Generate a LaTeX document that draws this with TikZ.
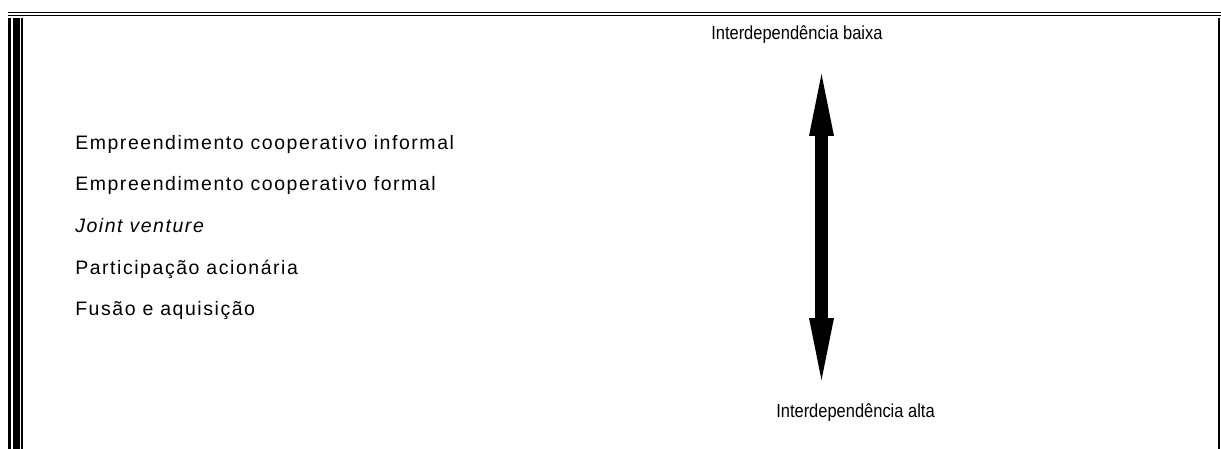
\documentclass[tikz,border=0pt]{standalone}
\usepackage{fontspec}
\setmainfont{Liberation Sans}
\newfontfamily\itemfont{Liberation Sans}[LetterSpace=8]
\newfontfamily\polefont{Liberation Sans}[FakeStretch=0.87]
\usetikzlibrary{arrows.meta}
\tikzset{
  item/.style={anchor=base west, inner sep=0pt, font=\itemfont\fontsize{14.6pt}{16pt}\selectfont},
  pole/.style={anchor=base west, inner sep=0pt, font=\polefont\fontsize{14.2pt}{16pt}\selectfont},
  frame/.style={line width=1pt, black},
  bigarrow/.style={line width=9.75pt,
    {Triangle[length=46.5pt,width=18.75pt,line width=0pt]}-{Triangle[length=46.5pt,width=18.75pt,line width=0pt]}}
}
\begin{document}
\begin{tikzpicture}[x=0.75pt,y=-0.75pt]
\useasboundingbox (0,0) rectangle (1221,449);
% table frame: double rule on top, triple rule on the left, single on the right
\draw[frame] (8,12.7) -- (1221,12.7);
\draw[frame] (8,15.7) -- (1221,15.7);
\fill (8,18) rectangle (10.5,449);
\fill (12.5,18) rectangle (19.5,449);
\fill (21,18) rectangle (23,449);
\fill (1217.7,18) rectangle (1220.3,449);
% forms of cooperation
\node[item] (t1) at (75,150) {Empreendimento cooperativo informal};
\node[item] (t2) at (75,191) {Empreendimento cooperativo formal};
\node[item] (t3) at (75,233) {\itshape Joint venture};
\node[item] (t4) at (75,274) {Participação acionária};
\node[item] (t5) at (75,315) {Fusão e aquisição};
% interdependence scale
\node[pole] (low) at (711,40) {Interdependência baixa};
\node[pole] (high) at (776,417) {Interdependência alta};
\coordinate (up) at (821.5,74);
\coordinate (down) at (821.5,380);
\draw[bigarrow] (up) -- (down);
\end{tikzpicture}
\end{document}
